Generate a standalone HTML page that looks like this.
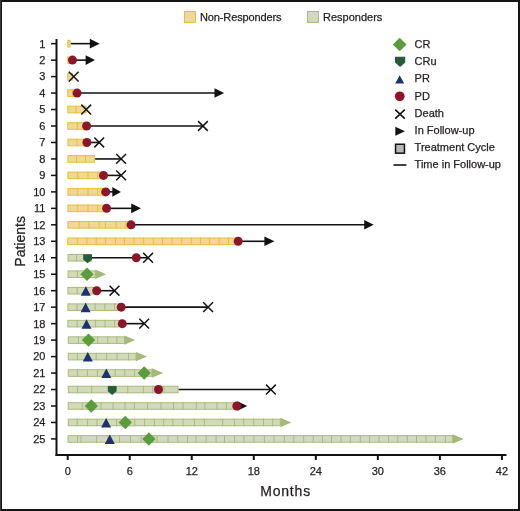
<!DOCTYPE html>
<html><head><meta charset="utf-8"><title>Swimmer plot</title>
<style>
html,body{margin:0;padding:0;background:#fff;}
body{width:520px;height:511px;overflow:hidden;}
svg{display:block;will-change:transform;}
text{font-family:"Liberation Sans",sans-serif;fill:#231f20;stroke:#231f20;stroke-width:0.25px;}
.t11{font-size:11px;}
.t14{font-size:14px;}
</style></head>
<body>
<svg width="520" height="511" viewBox="0 0 520 511">
<rect x="0" y="0" width="520" height="511" fill="#fff"/>
<rect x="1" y="1" width="518" height="509" fill="none" stroke="#141414" stroke-width="2"/>
<rect x="0" y="0" width="1" height="511" fill="#3a3a3a"/>
<rect x="184.5" y="11.5" width="11" height="11" fill="#f0d894" stroke="#e5bf3e" stroke-width="1"/>
<text x="200" y="20.9" class="t11" letter-spacing="-0.12">Non-Responders</text>
<rect x="307.5" y="11.5" width="11" height="11" fill="#d3dab9" stroke="#a9bb7b" stroke-width="1"/>
<text x="323" y="20.9" class="t11">Responders</text>
<text x="414.6" y="48.00" class="t11">CR</text>
<text x="414.6" y="65.20" class="t11">CRu</text>
<text x="414.6" y="82.40" class="t11">PR</text>
<text x="414.6" y="99.60" class="t11">PD</text>
<text x="414.6" y="116.80" class="t11">Death</text>
<text x="414.6" y="134.00" class="t11">In Follow-up</text>
<text x="414.6" y="151.20" class="t11">Treatment Cycle</text>
<text x="414.6" y="168.40" class="t11">Time in Follow-up</text>
<path d="M399.7 37.8L406.6 44.5L399.7 51.2L392.8 44.5Z" fill="#5b9d3d"/>
<path d="M395 56.8L405.2 56.8L405.2 62.4L400.1 67L395 62.4Z" fill="#295a3b"/>
<path d="M399.7 75.3L404.2 83.4L395.2 83.4Z" fill="#1e3270"/>
<circle cx="399.75" cy="96.3" r="4.85" fill="#8c1529"/>
<path d="M395.2 109.6L404.8 118.6M404.8 109.6L395.2 118.6" stroke="#121212" stroke-width="1.6" fill="none"/>
<path d="M395.3 126.7L405.0 131.2L395.3 135.7Z" fill="#121212"/>
<rect x="395.55" y="144.25" width="8.9" height="8.9" fill="#b8b8b8" stroke="#121212" stroke-width="1.5"/>
<line x1="393.5" y1="165" x2="406.4" y2="165" stroke="#121212" stroke-width="1.6"/>
<line x1="56.5" y1="39" x2="56.5" y2="456" stroke="#121212" stroke-width="2"/>
<line x1="55.5" y1="455" x2="506.5" y2="455" stroke="#121212" stroke-width="2"/>
<line x1="51" y1="43.65" x2="56" y2="43.65" stroke="#121212" stroke-width="1.5"/>
<text x="45.4" y="47.55" text-anchor="end" class="t11">1</text>
<line x1="51" y1="60.12" x2="56" y2="60.12" stroke="#121212" stroke-width="1.5"/>
<text x="45.4" y="64.02" text-anchor="end" class="t11">2</text>
<line x1="51" y1="76.59" x2="56" y2="76.59" stroke="#121212" stroke-width="1.5"/>
<text x="45.4" y="80.49" text-anchor="end" class="t11">3</text>
<line x1="51" y1="93.06" x2="56" y2="93.06" stroke="#121212" stroke-width="1.5"/>
<text x="45.4" y="96.96" text-anchor="end" class="t11">4</text>
<line x1="51" y1="109.53" x2="56" y2="109.53" stroke="#121212" stroke-width="1.5"/>
<text x="45.4" y="113.43" text-anchor="end" class="t11">5</text>
<line x1="51" y1="126.00" x2="56" y2="126.00" stroke="#121212" stroke-width="1.5"/>
<text x="45.4" y="129.90" text-anchor="end" class="t11">6</text>
<line x1="51" y1="142.47" x2="56" y2="142.47" stroke="#121212" stroke-width="1.5"/>
<text x="45.4" y="146.37" text-anchor="end" class="t11">7</text>
<line x1="51" y1="158.94" x2="56" y2="158.94" stroke="#121212" stroke-width="1.5"/>
<text x="45.4" y="162.84" text-anchor="end" class="t11">8</text>
<line x1="51" y1="175.41" x2="56" y2="175.41" stroke="#121212" stroke-width="1.5"/>
<text x="45.4" y="179.31" text-anchor="end" class="t11">9</text>
<line x1="51" y1="191.88" x2="56" y2="191.88" stroke="#121212" stroke-width="1.5"/>
<text x="45.4" y="195.78" text-anchor="end" class="t11">10</text>
<line x1="51" y1="208.35" x2="56" y2="208.35" stroke="#121212" stroke-width="1.5"/>
<text x="45.4" y="212.25" text-anchor="end" class="t11">11</text>
<line x1="51" y1="224.82" x2="56" y2="224.82" stroke="#121212" stroke-width="1.5"/>
<text x="45.4" y="228.72" text-anchor="end" class="t11">12</text>
<line x1="51" y1="241.29" x2="56" y2="241.29" stroke="#121212" stroke-width="1.5"/>
<text x="45.4" y="245.19" text-anchor="end" class="t11">13</text>
<line x1="51" y1="257.76" x2="56" y2="257.76" stroke="#121212" stroke-width="1.5"/>
<text x="45.4" y="261.66" text-anchor="end" class="t11">14</text>
<line x1="51" y1="274.23" x2="56" y2="274.23" stroke="#121212" stroke-width="1.5"/>
<text x="45.4" y="278.13" text-anchor="end" class="t11">15</text>
<line x1="51" y1="290.70" x2="56" y2="290.70" stroke="#121212" stroke-width="1.5"/>
<text x="45.4" y="294.60" text-anchor="end" class="t11">16</text>
<line x1="51" y1="307.17" x2="56" y2="307.17" stroke="#121212" stroke-width="1.5"/>
<text x="45.4" y="311.07" text-anchor="end" class="t11">17</text>
<line x1="51" y1="323.64" x2="56" y2="323.64" stroke="#121212" stroke-width="1.5"/>
<text x="45.4" y="327.54" text-anchor="end" class="t11">18</text>
<line x1="51" y1="340.11" x2="56" y2="340.11" stroke="#121212" stroke-width="1.5"/>
<text x="45.4" y="344.01" text-anchor="end" class="t11">19</text>
<line x1="51" y1="356.58" x2="56" y2="356.58" stroke="#121212" stroke-width="1.5"/>
<text x="45.4" y="360.48" text-anchor="end" class="t11">20</text>
<line x1="51" y1="373.05" x2="56" y2="373.05" stroke="#121212" stroke-width="1.5"/>
<text x="45.4" y="376.95" text-anchor="end" class="t11">21</text>
<line x1="51" y1="389.52" x2="56" y2="389.52" stroke="#121212" stroke-width="1.5"/>
<text x="45.4" y="393.42" text-anchor="end" class="t11">22</text>
<line x1="51" y1="405.99" x2="56" y2="405.99" stroke="#121212" stroke-width="1.5"/>
<text x="45.4" y="409.89" text-anchor="end" class="t11">23</text>
<line x1="51" y1="422.46" x2="56" y2="422.46" stroke="#121212" stroke-width="1.5"/>
<text x="45.4" y="426.36" text-anchor="end" class="t11">24</text>
<line x1="51" y1="438.93" x2="56" y2="438.93" stroke="#121212" stroke-width="1.5"/>
<text x="45.4" y="442.83" text-anchor="end" class="t11">25</text>
<line x1="67.70" y1="455" x2="67.70" y2="460" stroke="#121212" stroke-width="2"/>
<text x="67.70" y="475.1" text-anchor="middle" class="t11">0</text>
<line x1="129.73" y1="455" x2="129.73" y2="460" stroke="#121212" stroke-width="2"/>
<text x="129.73" y="475.1" text-anchor="middle" class="t11">6</text>
<line x1="191.76" y1="455" x2="191.76" y2="460" stroke="#121212" stroke-width="2"/>
<text x="191.76" y="475.1" text-anchor="middle" class="t11">12</text>
<line x1="253.79" y1="455" x2="253.79" y2="460" stroke="#121212" stroke-width="2"/>
<text x="253.79" y="475.1" text-anchor="middle" class="t11">18</text>
<line x1="315.82" y1="455" x2="315.82" y2="460" stroke="#121212" stroke-width="2"/>
<text x="315.82" y="475.1" text-anchor="middle" class="t11">24</text>
<line x1="377.85" y1="455" x2="377.85" y2="460" stroke="#121212" stroke-width="2"/>
<text x="377.85" y="475.1" text-anchor="middle" class="t11">30</text>
<line x1="439.88" y1="455" x2="439.88" y2="460" stroke="#121212" stroke-width="2"/>
<text x="439.88" y="475.1" text-anchor="middle" class="t11">36</text>
<line x1="501.91" y1="455" x2="501.91" y2="460" stroke="#121212" stroke-width="2"/>
<text x="501.91" y="475.1" text-anchor="middle" class="t11">42</text>
<text x="285.6" y="496.2" text-anchor="middle" class="t14" letter-spacing="0.8">Months</text>
<text transform="translate(24.8 241.4) rotate(-90)" text-anchor="middle" class="t14">Patients</text>
<line x1="70.6" y1="43.65" x2="91.0" y2="43.65" stroke="#121212" stroke-width="1.6"/>
<rect x="67.8" y="40.35" width="2.3" height="6.6" fill="#f0d894" stroke="#e5bf3e" stroke-width="1"/>
<path d="M89.8 38.85L99.7 43.65L89.8 48.45Z" fill="#121212"/>
<line x1="72.5" y1="60.12" x2="87.0" y2="60.12" stroke="#121212" stroke-width="1.6"/>
<rect x="67.8" y="56.82" width="4.2" height="6.6" fill="#f0d894" stroke="#e5bf3e" stroke-width="1"/>
<path d="M85.6 55.32L95.0 60.12L85.6 64.92Z" fill="#121212"/>
<circle cx="72.5" cy="60.12" r="4.5" fill="#8c1529"/>
<rect x="67.8" y="73.29" width="4.7" height="6.6" fill="#f0d894" stroke="#e5bf3e" stroke-width="1"/>
<path d="M68.8 71.69L78.6 81.49M78.6 71.69L68.8 81.49" stroke="#121212" stroke-width="1.5" fill="none"/>
<line x1="77.1" y1="93.06" x2="216.0" y2="93.06" stroke="#121212" stroke-width="1.6"/>
<rect x="67.8" y="89.76" width="8.8" height="6.6" fill="#f0d894" stroke="#e5bf3e" stroke-width="1"/>
<line x1="72.4" y1="89.26" x2="72.4" y2="96.86" stroke="#e5bf3e" stroke-width="1"/>
<path d="M214.5 88.26L224.1 93.06L214.5 97.86Z" fill="#121212"/>
<circle cx="77.1" cy="93.06" r="4.5" fill="#8c1529"/>
<rect x="67.8" y="106.23" width="18.2" height="6.6" fill="#f0d894" stroke="#e5bf3e" stroke-width="1"/>
<line x1="76.0" y1="105.73" x2="76.0" y2="113.33" stroke="#e5bf3e" stroke-width="1"/>
<path d="M81.3 104.63L91.1 114.43M91.1 104.63L81.3 114.43" stroke="#121212" stroke-width="1.5" fill="none"/>
<line x1="86.6" y1="126.00" x2="202.9" y2="126.00" stroke="#121212" stroke-width="1.6"/>
<rect x="67.8" y="122.70" width="18.3" height="6.6" fill="#f0d894" stroke="#e5bf3e" stroke-width="1"/>
<line x1="77.3" y1="122.20" x2="77.3" y2="129.80" stroke="#e5bf3e" stroke-width="1"/>
<circle cx="86.6" cy="126.00" r="4.5" fill="#8c1529"/>
<path d="M198.0 121.10L207.8 130.90M207.8 121.10L198.0 130.90" stroke="#121212" stroke-width="1.5" fill="none"/>
<line x1="86.9" y1="142.47" x2="99.2" y2="142.47" stroke="#121212" stroke-width="1.6"/>
<rect x="67.9" y="139.17" width="18.5" height="6.6" fill="#f0d894" stroke="#e5bf3e" stroke-width="1"/>
<line x1="76.9" y1="138.67" x2="76.9" y2="146.27" stroke="#e5bf3e" stroke-width="1"/>
<circle cx="86.9" cy="142.47" r="4.5" fill="#8c1529"/>
<path d="M94.3 137.57L104.1 147.37M104.1 137.57L94.3 147.37" stroke="#121212" stroke-width="1.5" fill="none"/>
<line x1="95.1" y1="158.94" x2="121.1" y2="158.94" stroke="#121212" stroke-width="1.6"/>
<rect x="67.9" y="155.64" width="26.7" height="6.6" fill="#f0d894" stroke="#e5bf3e" stroke-width="1"/>
<line x1="76.5" y1="155.14" x2="76.5" y2="162.74" stroke="#e5bf3e" stroke-width="1"/>
<line x1="85.6" y1="155.14" x2="85.6" y2="162.74" stroke="#e5bf3e" stroke-width="1"/>
<path d="M116.2 154.04L126.0 163.84M126.0 154.04L116.2 163.84" stroke="#121212" stroke-width="1.5" fill="none"/>
<line x1="103.5" y1="175.41" x2="121.1" y2="175.41" stroke="#121212" stroke-width="1.6"/>
<rect x="67.9" y="172.11" width="35.1" height="6.6" fill="#f0d894" stroke="#e5bf3e" stroke-width="1"/>
<line x1="77.7" y1="171.61" x2="77.7" y2="179.21" stroke="#e5bf3e" stroke-width="1"/>
<line x1="88.0" y1="171.61" x2="88.0" y2="179.21" stroke="#e5bf3e" stroke-width="1"/>
<line x1="97.6" y1="171.61" x2="97.6" y2="179.21" stroke="#e5bf3e" stroke-width="1"/>
<circle cx="103.5" cy="175.41" r="4.5" fill="#8c1529"/>
<path d="M116.2 170.51L126.0 180.31M126.0 170.51L116.2 180.31" stroke="#121212" stroke-width="1.5" fill="none"/>
<line x1="105.7" y1="191.88" x2="113.0" y2="191.88" stroke="#121212" stroke-width="1.6"/>
<rect x="67.9" y="188.58" width="37.3" height="6.6" fill="#f0d894" stroke="#e5bf3e" stroke-width="1"/>
<line x1="77.7" y1="188.08" x2="77.7" y2="195.68" stroke="#e5bf3e" stroke-width="1"/>
<line x1="88.0" y1="188.08" x2="88.0" y2="195.68" stroke="#e5bf3e" stroke-width="1"/>
<line x1="97.7" y1="188.08" x2="97.7" y2="195.68" stroke="#e5bf3e" stroke-width="1"/>
<path d="M112.3 187.08L120.9 191.88L112.3 196.68Z" fill="#121212"/>
<circle cx="105.7" cy="191.88" r="4.5" fill="#8c1529"/>
<line x1="106.6" y1="208.35" x2="132.0" y2="208.35" stroke="#121212" stroke-width="1.6"/>
<rect x="67.9" y="205.05" width="38.2" height="6.6" fill="#f0d894" stroke="#e5bf3e" stroke-width="1"/>
<line x1="77.7" y1="204.55" x2="77.7" y2="212.15" stroke="#e5bf3e" stroke-width="1"/>
<line x1="88.0" y1="204.55" x2="88.0" y2="212.15" stroke="#e5bf3e" stroke-width="1"/>
<line x1="97.7" y1="204.55" x2="97.7" y2="212.15" stroke="#e5bf3e" stroke-width="1"/>
<path d="M131.2 203.55L141.0 208.35L131.2 213.15Z" fill="#121212"/>
<circle cx="106.6" cy="208.35" r="4.5" fill="#8c1529"/>
<line x1="131.1" y1="224.82" x2="365.0" y2="224.82" stroke="#121212" stroke-width="1.6"/>
<rect x="67.9" y="221.52" width="62.7" height="6.6" fill="#f0d894" stroke="#e5bf3e" stroke-width="1"/>
<line x1="79.2" y1="221.02" x2="79.2" y2="228.62" stroke="#e5bf3e" stroke-width="1"/>
<line x1="88.9" y1="221.02" x2="88.9" y2="228.62" stroke="#e5bf3e" stroke-width="1"/>
<line x1="99.2" y1="221.02" x2="99.2" y2="228.62" stroke="#e5bf3e" stroke-width="1"/>
<line x1="105.4" y1="221.02" x2="105.4" y2="228.62" stroke="#e5bf3e" stroke-width="1"/>
<line x1="116.2" y1="221.02" x2="116.2" y2="228.62" stroke="#e5bf3e" stroke-width="1"/>
<line x1="126.0" y1="221.02" x2="126.0" y2="228.62" stroke="#e5bf3e" stroke-width="1"/>
<path d="M364.2 220.02L373.7 224.82L364.2 229.62Z" fill="#121212"/>
<circle cx="131.1" cy="224.82" r="4.5" fill="#8c1529"/>
<line x1="238.2" y1="241.29" x2="265.0" y2="241.29" stroke="#121212" stroke-width="1.6"/>
<rect x="67.8" y="237.99" width="169.9" height="6.6" fill="#f0d894" stroke="#e5bf3e" stroke-width="1"/>
<line x1="77.3" y1="237.49" x2="77.3" y2="245.09" stroke="#e5bf3e" stroke-width="1"/>
<line x1="86.9" y1="237.49" x2="86.9" y2="245.09" stroke="#e5bf3e" stroke-width="1"/>
<line x1="96.2" y1="237.49" x2="96.2" y2="245.09" stroke="#e5bf3e" stroke-width="1"/>
<line x1="105.6" y1="237.49" x2="105.6" y2="245.09" stroke="#e5bf3e" stroke-width="1"/>
<line x1="115.4" y1="237.49" x2="115.4" y2="245.09" stroke="#e5bf3e" stroke-width="1"/>
<line x1="124.4" y1="237.49" x2="124.4" y2="245.09" stroke="#e5bf3e" stroke-width="1"/>
<line x1="134.0" y1="237.49" x2="134.0" y2="245.09" stroke="#e5bf3e" stroke-width="1"/>
<line x1="143.7" y1="237.49" x2="143.7" y2="245.09" stroke="#e5bf3e" stroke-width="1"/>
<line x1="153.3" y1="237.49" x2="153.3" y2="245.09" stroke="#e5bf3e" stroke-width="1"/>
<line x1="162.5" y1="237.49" x2="162.5" y2="245.09" stroke="#e5bf3e" stroke-width="1"/>
<line x1="172.1" y1="237.49" x2="172.1" y2="245.09" stroke="#e5bf3e" stroke-width="1"/>
<line x1="181.7" y1="237.49" x2="181.7" y2="245.09" stroke="#e5bf3e" stroke-width="1"/>
<line x1="191.3" y1="237.49" x2="191.3" y2="245.09" stroke="#e5bf3e" stroke-width="1"/>
<line x1="200.4" y1="237.49" x2="200.4" y2="245.09" stroke="#e5bf3e" stroke-width="1"/>
<line x1="209.6" y1="237.49" x2="209.6" y2="245.09" stroke="#e5bf3e" stroke-width="1"/>
<line x1="219.2" y1="237.49" x2="219.2" y2="245.09" stroke="#e5bf3e" stroke-width="1"/>
<line x1="228.5" y1="237.49" x2="228.5" y2="245.09" stroke="#e5bf3e" stroke-width="1"/>
<path d="M264.4 236.49L274.4 241.29L264.4 246.09Z" fill="#121212"/>
<circle cx="238.2" cy="241.29" r="4.5" fill="#8c1529"/>
<line x1="92.0" y1="257.76" x2="148.1" y2="257.76" stroke="#121212" stroke-width="1.6"/>
<rect x="68.1" y="254.46" width="23.4" height="6.6" fill="#d3dab9" stroke="#a9bb7b" stroke-width="1"/>
<line x1="76.6" y1="253.96" x2="76.6" y2="261.56" stroke="#a9bb7b" stroke-width="1"/>
<path d="M83.2 254.26L92.0 254.26L92.0 259.56L87.6 263.26L83.2 259.56Z" fill="#295a3b"/>
<circle cx="136.3" cy="257.76" r="4.5" fill="#8c1529"/>
<path d="M143.2 252.86L153.0 262.66M153.0 252.86L143.2 262.66" stroke="#121212" stroke-width="1.5" fill="none"/>
<path d="M95.2 269.53L106.4 274.23L95.2 278.93Z" fill="#a6b979"/>
<rect x="68.1" y="270.93" width="27.1" height="6.6" fill="#d3dab9" stroke="#a9bb7b" stroke-width="1"/>
<line x1="77.4" y1="270.43" x2="77.4" y2="278.03" stroke="#a9bb7b" stroke-width="1"/>
<line x1="87.0" y1="270.43" x2="87.0" y2="278.03" stroke="#a9bb7b" stroke-width="1"/>
<path d="M87.0 267.53L93.7 274.23L87.0 280.93L80.3 274.23Z" fill="#5b9d3d"/>
<line x1="96.7" y1="290.70" x2="114.5" y2="290.70" stroke="#121212" stroke-width="1.6"/>
<rect x="67.9" y="287.40" width="28.3" height="6.6" fill="#d3dab9" stroke="#a9bb7b" stroke-width="1"/>
<line x1="77.1" y1="286.90" x2="77.1" y2="294.50" stroke="#a9bb7b" stroke-width="1"/>
<line x1="86.7" y1="286.90" x2="86.7" y2="294.50" stroke="#a9bb7b" stroke-width="1"/>
<path d="M85.8 286.20L90.8 295.70L80.8 295.70Z" fill="#1e3270"/>
<circle cx="96.7" cy="290.70" r="4.5" fill="#8c1529"/>
<path d="M109.6 285.80L119.4 295.60M119.4 285.80L109.6 295.60" stroke="#121212" stroke-width="1.5" fill="none"/>
<line x1="121.2" y1="307.17" x2="208.1" y2="307.17" stroke="#121212" stroke-width="1.6"/>
<rect x="67.9" y="303.87" width="52.8" height="6.6" fill="#d3dab9" stroke="#a9bb7b" stroke-width="1"/>
<line x1="77.1" y1="303.37" x2="77.1" y2="310.97" stroke="#a9bb7b" stroke-width="1"/>
<line x1="86.7" y1="303.37" x2="86.7" y2="310.97" stroke="#a9bb7b" stroke-width="1"/>
<line x1="95.2" y1="303.37" x2="95.2" y2="310.97" stroke="#a9bb7b" stroke-width="1"/>
<line x1="104.8" y1="303.37" x2="104.8" y2="310.97" stroke="#a9bb7b" stroke-width="1"/>
<line x1="114.5" y1="303.37" x2="114.5" y2="310.97" stroke="#a9bb7b" stroke-width="1"/>
<path d="M85.6 302.67L90.6 312.17L80.6 312.17Z" fill="#1e3270"/>
<circle cx="121.2" cy="307.17" r="4.5" fill="#8c1529"/>
<path d="M203.2 302.27L213.0 312.07M213.0 302.27L203.2 312.07" stroke="#121212" stroke-width="1.5" fill="none"/>
<line x1="122.3" y1="323.64" x2="144.2" y2="323.64" stroke="#121212" stroke-width="1.6"/>
<rect x="67.9" y="320.34" width="53.9" height="6.6" fill="#d3dab9" stroke="#a9bb7b" stroke-width="1"/>
<line x1="77.1" y1="319.84" x2="77.1" y2="327.44" stroke="#a9bb7b" stroke-width="1"/>
<line x1="86.7" y1="319.84" x2="86.7" y2="327.44" stroke="#a9bb7b" stroke-width="1"/>
<line x1="95.6" y1="319.84" x2="95.6" y2="327.44" stroke="#a9bb7b" stroke-width="1"/>
<line x1="105.0" y1="319.84" x2="105.0" y2="327.44" stroke="#a9bb7b" stroke-width="1"/>
<line x1="114.6" y1="319.84" x2="114.6" y2="327.44" stroke="#a9bb7b" stroke-width="1"/>
<path d="M86.5 319.14L91.5 328.64L81.5 328.64Z" fill="#1e3270"/>
<circle cx="122.3" cy="323.64" r="4.5" fill="#8c1529"/>
<path d="M139.3 318.74L149.1 328.54M149.1 318.74L139.3 328.54" stroke="#121212" stroke-width="1.5" fill="none"/>
<path d="M124.5 335.41L135.1 340.11L124.5 344.81Z" fill="#a6b979"/>
<rect x="68.3" y="336.81" width="56.2" height="6.6" fill="#d3dab9" stroke="#a9bb7b" stroke-width="1"/>
<line x1="78.4" y1="336.31" x2="78.4" y2="343.91" stroke="#a9bb7b" stroke-width="1"/>
<line x1="88.5" y1="336.31" x2="88.5" y2="343.91" stroke="#a9bb7b" stroke-width="1"/>
<line x1="97.7" y1="336.31" x2="97.7" y2="343.91" stroke="#a9bb7b" stroke-width="1"/>
<line x1="107.7" y1="336.31" x2="107.7" y2="343.91" stroke="#a9bb7b" stroke-width="1"/>
<line x1="116.9" y1="336.31" x2="116.9" y2="343.91" stroke="#a9bb7b" stroke-width="1"/>
<path d="M88.5 333.41L95.2 340.11L88.5 346.81L81.8 340.11Z" fill="#5b9d3d"/>
<path d="M136.0 351.88L147.1 356.58L136.0 361.28Z" fill="#a6b979"/>
<rect x="68.3" y="353.28" width="67.7" height="6.6" fill="#d3dab9" stroke="#a9bb7b" stroke-width="1"/>
<line x1="77.4" y1="352.78" x2="77.4" y2="360.38" stroke="#a9bb7b" stroke-width="1"/>
<line x1="87.0" y1="352.78" x2="87.0" y2="360.38" stroke="#a9bb7b" stroke-width="1"/>
<line x1="96.2" y1="352.78" x2="96.2" y2="360.38" stroke="#a9bb7b" stroke-width="1"/>
<line x1="106.6" y1="352.78" x2="106.6" y2="360.38" stroke="#a9bb7b" stroke-width="1"/>
<line x1="117.0" y1="352.78" x2="117.0" y2="360.38" stroke="#a9bb7b" stroke-width="1"/>
<line x1="128.5" y1="352.78" x2="128.5" y2="360.38" stroke="#a9bb7b" stroke-width="1"/>
<path d="M87.8 352.08L92.8 361.58L82.8 361.58Z" fill="#1e3270"/>
<path d="M151.8 368.35L163.2 373.05L151.8 377.75Z" fill="#a6b979"/>
<rect x="68.3" y="369.75" width="83.5" height="6.6" fill="#d3dab9" stroke="#a9bb7b" stroke-width="1"/>
<line x1="77.4" y1="369.25" x2="77.4" y2="376.85" stroke="#a9bb7b" stroke-width="1"/>
<line x1="87.4" y1="369.25" x2="87.4" y2="376.85" stroke="#a9bb7b" stroke-width="1"/>
<line x1="97.4" y1="369.25" x2="97.4" y2="376.85" stroke="#a9bb7b" stroke-width="1"/>
<line x1="106.3" y1="369.25" x2="106.3" y2="376.85" stroke="#a9bb7b" stroke-width="1"/>
<line x1="115.2" y1="369.25" x2="115.2" y2="376.85" stroke="#a9bb7b" stroke-width="1"/>
<line x1="124.8" y1="369.25" x2="124.8" y2="376.85" stroke="#a9bb7b" stroke-width="1"/>
<line x1="134.6" y1="369.25" x2="134.6" y2="376.85" stroke="#a9bb7b" stroke-width="1"/>
<line x1="144.2" y1="369.25" x2="144.2" y2="376.85" stroke="#a9bb7b" stroke-width="1"/>
<path d="M106.3 368.55L111.3 378.05L101.3 378.05Z" fill="#1e3270"/>
<path d="M144.2 366.35L150.9 373.05L144.2 379.75L137.5 373.05Z" fill="#5b9d3d"/>
<line x1="178.5" y1="389.52" x2="270.9" y2="389.52" stroke="#121212" stroke-width="1.6"/>
<rect x="68.3" y="386.22" width="109.7" height="6.6" fill="#d3dab9" stroke="#a9bb7b" stroke-width="1"/>
<line x1="77.6" y1="385.72" x2="77.6" y2="393.32" stroke="#a9bb7b" stroke-width="1"/>
<line x1="91.8" y1="385.72" x2="91.8" y2="393.32" stroke="#a9bb7b" stroke-width="1"/>
<line x1="110.0" y1="385.72" x2="110.0" y2="393.32" stroke="#a9bb7b" stroke-width="1"/>
<line x1="127.8" y1="385.72" x2="127.8" y2="393.32" stroke="#a9bb7b" stroke-width="1"/>
<line x1="143.3" y1="385.72" x2="143.3" y2="393.32" stroke="#a9bb7b" stroke-width="1"/>
<line x1="152.7" y1="385.72" x2="152.7" y2="393.32" stroke="#a9bb7b" stroke-width="1"/>
<line x1="164.0" y1="385.72" x2="164.0" y2="393.32" stroke="#a9bb7b" stroke-width="1"/>
<path d="M107.8 386.02L116.6 386.02L116.6 391.32L112.2 395.02L107.8 391.32Z" fill="#295a3b"/>
<circle cx="158.5" cy="389.52" r="4.5" fill="#8c1529"/>
<path d="M266.0 384.62L275.8 394.42M275.8 384.62L266.0 394.42" stroke="#121212" stroke-width="1.5" fill="none"/>
<rect x="68.2" y="402.69" width="168.3" height="6.6" fill="#d3dab9" stroke="#a9bb7b" stroke-width="1"/>
<line x1="82.2" y1="402.19" x2="82.2" y2="409.79" stroke="#a9bb7b" stroke-width="1"/>
<line x1="91.5" y1="402.19" x2="91.5" y2="409.79" stroke="#a9bb7b" stroke-width="1"/>
<line x1="101.0" y1="402.19" x2="101.0" y2="409.79" stroke="#a9bb7b" stroke-width="1"/>
<line x1="113.1" y1="402.19" x2="113.1" y2="409.79" stroke="#a9bb7b" stroke-width="1"/>
<line x1="125.0" y1="402.19" x2="125.0" y2="409.79" stroke="#a9bb7b" stroke-width="1"/>
<line x1="134.4" y1="402.19" x2="134.4" y2="409.79" stroke="#a9bb7b" stroke-width="1"/>
<line x1="147.5" y1="402.19" x2="147.5" y2="409.79" stroke="#a9bb7b" stroke-width="1"/>
<line x1="161.0" y1="402.19" x2="161.0" y2="409.79" stroke="#a9bb7b" stroke-width="1"/>
<line x1="173.5" y1="402.19" x2="173.5" y2="409.79" stroke="#a9bb7b" stroke-width="1"/>
<line x1="183.0" y1="402.19" x2="183.0" y2="409.79" stroke="#a9bb7b" stroke-width="1"/>
<line x1="196.2" y1="402.19" x2="196.2" y2="409.79" stroke="#a9bb7b" stroke-width="1"/>
<line x1="204.9" y1="402.19" x2="204.9" y2="409.79" stroke="#a9bb7b" stroke-width="1"/>
<line x1="217.0" y1="402.19" x2="217.0" y2="409.79" stroke="#a9bb7b" stroke-width="1"/>
<line x1="226.4" y1="402.19" x2="226.4" y2="409.79" stroke="#a9bb7b" stroke-width="1"/>
<path d="M237.5 401.19L247.2 405.99L237.5 410.79Z" fill="#121212"/>
<path d="M91.3 399.29L98.0 405.99L91.3 412.69L84.6 405.99Z" fill="#5b9d3d"/>
<circle cx="236.8" cy="405.99" r="4.5" fill="#8c1529"/>
<path d="M280.3 417.76L291.4 422.46L280.3 427.16Z" fill="#a6b979"/>
<rect x="68.2" y="419.16" width="212.1" height="6.6" fill="#d3dab9" stroke="#a9bb7b" stroke-width="1"/>
<line x1="77.2" y1="418.66" x2="77.2" y2="426.26" stroke="#a9bb7b" stroke-width="1"/>
<line x1="87.6" y1="418.66" x2="87.6" y2="426.26" stroke="#a9bb7b" stroke-width="1"/>
<line x1="97.0" y1="418.66" x2="97.0" y2="426.26" stroke="#a9bb7b" stroke-width="1"/>
<line x1="106.5" y1="418.66" x2="106.5" y2="426.26" stroke="#a9bb7b" stroke-width="1"/>
<line x1="116.5" y1="418.66" x2="116.5" y2="426.26" stroke="#a9bb7b" stroke-width="1"/>
<line x1="125.5" y1="418.66" x2="125.5" y2="426.26" stroke="#a9bb7b" stroke-width="1"/>
<line x1="134.8" y1="418.66" x2="134.8" y2="426.26" stroke="#a9bb7b" stroke-width="1"/>
<line x1="144.6" y1="418.66" x2="144.6" y2="426.26" stroke="#a9bb7b" stroke-width="1"/>
<line x1="154.4" y1="418.66" x2="154.4" y2="426.26" stroke="#a9bb7b" stroke-width="1"/>
<line x1="163.7" y1="418.66" x2="163.7" y2="426.26" stroke="#a9bb7b" stroke-width="1"/>
<line x1="172.9" y1="418.66" x2="172.9" y2="426.26" stroke="#a9bb7b" stroke-width="1"/>
<line x1="183.0" y1="418.66" x2="183.0" y2="426.26" stroke="#a9bb7b" stroke-width="1"/>
<line x1="194.4" y1="418.66" x2="194.4" y2="426.26" stroke="#a9bb7b" stroke-width="1"/>
<line x1="204.4" y1="418.66" x2="204.4" y2="426.26" stroke="#a9bb7b" stroke-width="1"/>
<line x1="222.7" y1="418.66" x2="222.7" y2="426.26" stroke="#a9bb7b" stroke-width="1"/>
<line x1="234.6" y1="418.66" x2="234.6" y2="426.26" stroke="#a9bb7b" stroke-width="1"/>
<line x1="243.8" y1="418.66" x2="243.8" y2="426.26" stroke="#a9bb7b" stroke-width="1"/>
<line x1="253.8" y1="418.66" x2="253.8" y2="426.26" stroke="#a9bb7b" stroke-width="1"/>
<line x1="263.5" y1="418.66" x2="263.5" y2="426.26" stroke="#a9bb7b" stroke-width="1"/>
<line x1="272.7" y1="418.66" x2="272.7" y2="426.26" stroke="#a9bb7b" stroke-width="1"/>
<path d="M106.1 417.96L111.1 427.46L101.1 427.46Z" fill="#1e3270"/>
<path d="M125.3 415.76L132.0 422.46L125.3 429.16L118.6 422.46Z" fill="#5b9d3d"/>
<path d="M452.6 434.23L463.8 438.93L452.6 443.63Z" fill="#a6b979"/>
<rect x="68.0" y="435.63" width="384.6" height="6.6" fill="#d3dab9" stroke="#a9bb7b" stroke-width="1"/>
<line x1="77.6" y1="435.13" x2="77.6" y2="442.73" stroke="#a9bb7b" stroke-width="1"/>
<line x1="81.0" y1="435.13" x2="81.0" y2="442.73" stroke="#a9bb7b" stroke-width="1"/>
<line x1="96.6" y1="435.13" x2="96.6" y2="442.73" stroke="#a9bb7b" stroke-width="1"/>
<line x1="108.0" y1="435.13" x2="108.0" y2="442.73" stroke="#a9bb7b" stroke-width="1"/>
<line x1="119.5" y1="435.13" x2="119.5" y2="442.73" stroke="#a9bb7b" stroke-width="1"/>
<line x1="130.4" y1="435.13" x2="130.4" y2="442.73" stroke="#a9bb7b" stroke-width="1"/>
<line x1="141.1" y1="435.13" x2="141.1" y2="442.73" stroke="#a9bb7b" stroke-width="1"/>
<line x1="149.0" y1="435.13" x2="149.0" y2="442.73" stroke="#a9bb7b" stroke-width="1"/>
<line x1="157.1" y1="435.13" x2="157.1" y2="442.73" stroke="#a9bb7b" stroke-width="1"/>
<line x1="168.0" y1="435.13" x2="168.0" y2="442.73" stroke="#a9bb7b" stroke-width="1"/>
<line x1="177.8" y1="435.13" x2="177.8" y2="442.73" stroke="#a9bb7b" stroke-width="1"/>
<line x1="187.5" y1="435.13" x2="187.5" y2="442.73" stroke="#a9bb7b" stroke-width="1"/>
<line x1="196.0" y1="435.13" x2="196.0" y2="442.73" stroke="#a9bb7b" stroke-width="1"/>
<line x1="206.2" y1="435.13" x2="206.2" y2="442.73" stroke="#a9bb7b" stroke-width="1"/>
<line x1="216.1" y1="435.13" x2="216.1" y2="442.73" stroke="#a9bb7b" stroke-width="1"/>
<line x1="224.5" y1="435.13" x2="224.5" y2="442.73" stroke="#a9bb7b" stroke-width="1"/>
<line x1="234.5" y1="435.13" x2="234.5" y2="442.73" stroke="#a9bb7b" stroke-width="1"/>
<line x1="243.9" y1="435.13" x2="243.9" y2="442.73" stroke="#a9bb7b" stroke-width="1"/>
<line x1="253.9" y1="435.13" x2="253.9" y2="442.73" stroke="#a9bb7b" stroke-width="1"/>
<line x1="264.4" y1="435.13" x2="264.4" y2="442.73" stroke="#a9bb7b" stroke-width="1"/>
<line x1="274.1" y1="435.13" x2="274.1" y2="442.73" stroke="#a9bb7b" stroke-width="1"/>
<line x1="284.3" y1="435.13" x2="284.3" y2="442.73" stroke="#a9bb7b" stroke-width="1"/>
<line x1="293.8" y1="435.13" x2="293.8" y2="442.73" stroke="#a9bb7b" stroke-width="1"/>
<line x1="303.7" y1="435.13" x2="303.7" y2="442.73" stroke="#a9bb7b" stroke-width="1"/>
<line x1="313.2" y1="435.13" x2="313.2" y2="442.73" stroke="#a9bb7b" stroke-width="1"/>
<line x1="322.4" y1="435.13" x2="322.4" y2="442.73" stroke="#a9bb7b" stroke-width="1"/>
<line x1="331.5" y1="435.13" x2="331.5" y2="442.73" stroke="#a9bb7b" stroke-width="1"/>
<line x1="341.0" y1="435.13" x2="341.0" y2="442.73" stroke="#a9bb7b" stroke-width="1"/>
<line x1="350.3" y1="435.13" x2="350.3" y2="442.73" stroke="#a9bb7b" stroke-width="1"/>
<line x1="360.3" y1="435.13" x2="360.3" y2="442.73" stroke="#a9bb7b" stroke-width="1"/>
<line x1="369.6" y1="435.13" x2="369.6" y2="442.73" stroke="#a9bb7b" stroke-width="1"/>
<line x1="379.0" y1="435.13" x2="379.0" y2="442.73" stroke="#a9bb7b" stroke-width="1"/>
<line x1="388.6" y1="435.13" x2="388.6" y2="442.73" stroke="#a9bb7b" stroke-width="1"/>
<line x1="397.8" y1="435.13" x2="397.8" y2="442.73" stroke="#a9bb7b" stroke-width="1"/>
<line x1="407.3" y1="435.13" x2="407.3" y2="442.73" stroke="#a9bb7b" stroke-width="1"/>
<line x1="416.5" y1="435.13" x2="416.5" y2="442.73" stroke="#a9bb7b" stroke-width="1"/>
<line x1="426.0" y1="435.13" x2="426.0" y2="442.73" stroke="#a9bb7b" stroke-width="1"/>
<line x1="435.3" y1="435.13" x2="435.3" y2="442.73" stroke="#a9bb7b" stroke-width="1"/>
<line x1="445.4" y1="435.13" x2="445.4" y2="442.73" stroke="#a9bb7b" stroke-width="1"/>
<path d="M109.8 434.43L114.8 443.93L104.8 443.93Z" fill="#1e3270"/>
<path d="M148.9 432.23L155.6 438.93L148.9 445.63L142.2 438.93Z" fill="#5b9d3d"/>
</svg>
</body></html>
